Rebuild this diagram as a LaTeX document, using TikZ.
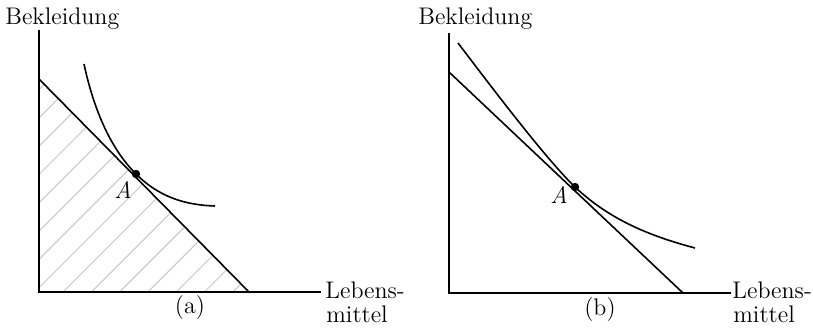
\documentclass[tikz,border=0pt]{standalone}
\begin{document}
\begin{tikzpicture}[x=0.5pt,y=-0.5pt,
  axis/.style={line width=1pt},
  curve/.style={line width=0.8pt},
  hatchline/.style={line width=0.5pt,black!22},
  lbl/.style={inner sep=0pt,font=\fontsize{12}{14.4}\selectfont},
  pt/.style={circle,fill=black,inner sep=0pt,minimum size=4.2pt}]
\useasboundingbox (0,0) rectangle (813,327);
% ---------- panel (a)
\coordinate (aTop) at (39,30);
\coordinate (aO) at (39,292);
\coordinate (aR) at (321,292);
\coordinate (aB1) at (39,79);
\coordinate (aB2) at (249,292);
\begin{scope}
  \clip (aB1) -- (aO) -- (aB2) -- cycle;
  \foreach \k in {-9,...,8} {
    \pgfmathsetmacro\c{355+28.3*\k}
    \draw[hatchline] (\c-300,300) -- (\c,0);
  }
\end{scope}
\draw[axis] (aTop) -- (aO) -- (aR);
\draw[curve] (aB1) -- (aB2);
\node[pt] (aA) at (136,174) {};
\draw[curve] (84,64) .. controls (95,115) and (113,151) .. (aA.center)
  .. controls (159,197) and (185,205) .. (215,206);
\node[lbl,font=\fontsize{12}{14.4}\selectfont\itshape] (aAl) at (123,190) {A};
\node[lbl,anchor=base west] (aY) at (5,24) {Bekleidung};
\node[lbl] (aCap) at (190,308) {(a)};
\node[lbl,anchor=base west] (aX1) at (325,298) {Lebens-};
\node[lbl,anchor=base west] (aX2) at (326,322) {mittel};
% ---------- panel (b)
\coordinate (bTop) at (449,33);
\coordinate (bO) at (449,293);
\coordinate (bR) at (731,293);
\coordinate (bB1) at (449,72);
\coordinate (bB2) at (683,293);
\draw[axis] (bTop) -- (bO) -- (bR);
\draw[curve] (bB1) -- (bB2);
\node[pt] (bA) at (575,187) {};
\draw[curve] (458,43) .. controls (490,85) and (545,158) .. (bA.center)
  .. controls (610,220) and (650,236) .. (695,248);
\node[lbl,font=\fontsize{12}{14.4}\selectfont\itshape] (bAl) at (559,195) {A};
\node[lbl,anchor=base west] (bY) at (418,24) {Bekleidung};
\node[lbl] (bCap) at (600,310) {(b)};
\node[lbl,anchor=base west] (bX1) at (732,298) {Lebens-};
\node[lbl,anchor=base west] (bX2) at (733,322) {mittel};
\end{tikzpicture}
\end{document}
